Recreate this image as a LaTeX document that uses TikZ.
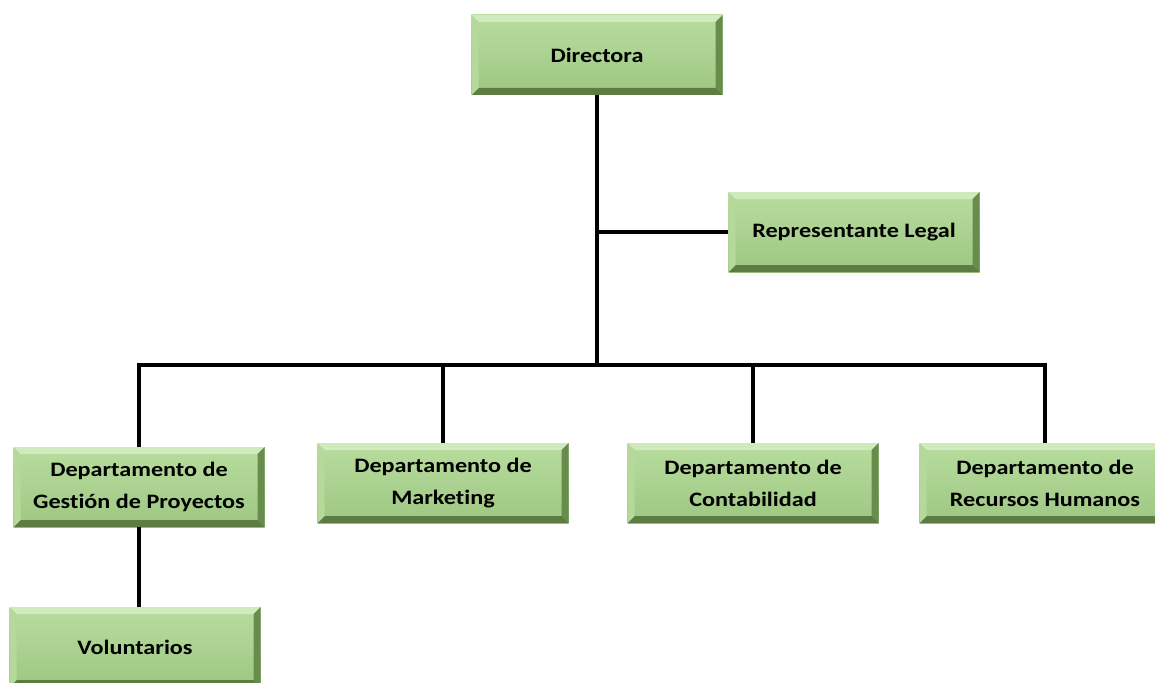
\documentclass[tikz,border=0pt]{standalone}
\usepackage{fontspec}
\newfontfamily\boxfont{Carlito}[FakeStretch=1.18, Ligatures=NoCommon]
\definecolor{face}{RGB}{170,210,142}
\definecolor{facetop}{RGB}{184,221,158}
\definecolor{facebot}{RGB}{158,199,130}
\definecolor{bvtop}{RGB}{208,234,190}
\definecolor{bvleft}{RGB}{180,217,155}
\definecolor{bvright}{RGB}{104,140,78}
\definecolor{bvbot}{RGB}{92,124,66}
\tikzset{
  orgbox/.style={minimum width=251pt, minimum height=80pt, inner sep=0pt,
    align=center, font=\boxfont\bfseries\fontsize{20.5}{32}\selectfont, text=black,
    fill=face,
    path picture={
      \shade[top color=facetop, bottom color=facebot]
        (path picture bounding box.north west) rectangle (path picture bounding box.south east);
      \fill[bvtop] (path picture bounding box.north west) -- (path picture bounding box.north east)
        -- ([shift={(-7pt,-7pt)}]path picture bounding box.north east)
        -- ([shift={(7pt,-7pt)}]path picture bounding box.north west) -- cycle;
      \fill[bvbot] (path picture bounding box.south west) -- (path picture bounding box.south east)
        -- ([shift={(-7pt,7pt)}]path picture bounding box.south east)
        -- ([shift={(7pt,7pt)}]path picture bounding box.south west) -- cycle;
      \fill[bvleft] (path picture bounding box.north west) -- (path picture bounding box.south west)
        -- ([shift={(7pt,7pt)}]path picture bounding box.south west)
        -- ([shift={(7pt,-7pt)}]path picture bounding box.north west) -- cycle;
      \fill[bvright] (path picture bounding box.north east) -- (path picture bounding box.south east)
        -- ([shift={(-7pt,7pt)}]path picture bounding box.south east)
        -- ([shift={(-7pt,-7pt)}]path picture bounding box.north east) -- cycle;
    }},
  conn/.style={line width=4pt, black}
}
\begin{document}
\begin{tikzpicture}[x=1pt,y=-1pt]
\useasboundingbox (0,0) rectangle (1155,682);
\node[orgbox] (dir) at (597,55) {Directora};
\node[orgbox] (legal) at (854,232) {Representante Legal};
\node[orgbox] (gp) at (139,487) {Departamento de\\Gestión de Proyectos};
\node[orgbox] (mk) at (443,483) {Departamento de\\Marketing};
\node[orgbox] (ct) at (753,483) {Departamento de\\Contabilidad};
\node[orgbox] (rh) at (1045,483) {Departamento de\\Recursos Humanos};
\node[orgbox] (vol) at (135,647) {Voluntarios};
\coordinate (bus) at (597,365);
\draw[conn] (dir.south) -- (bus);
\draw[conn] (dir.south |- legal.west) -- (legal.west);
\draw[conn, line cap=rect] (gp.north |- bus) -- (rh.north |- bus);
\draw[conn] (gp.north |- bus) -- (gp.north);
\draw[conn] (mk.north |- bus) -- (mk.north);
\draw[conn] (ct.north |- bus) -- (ct.north);
\draw[conn] (rh.north |- bus) -- (rh.north);
\draw[conn] (gp.south) -- (gp.south |- vol.north);
\end{tikzpicture}
\end{document}
